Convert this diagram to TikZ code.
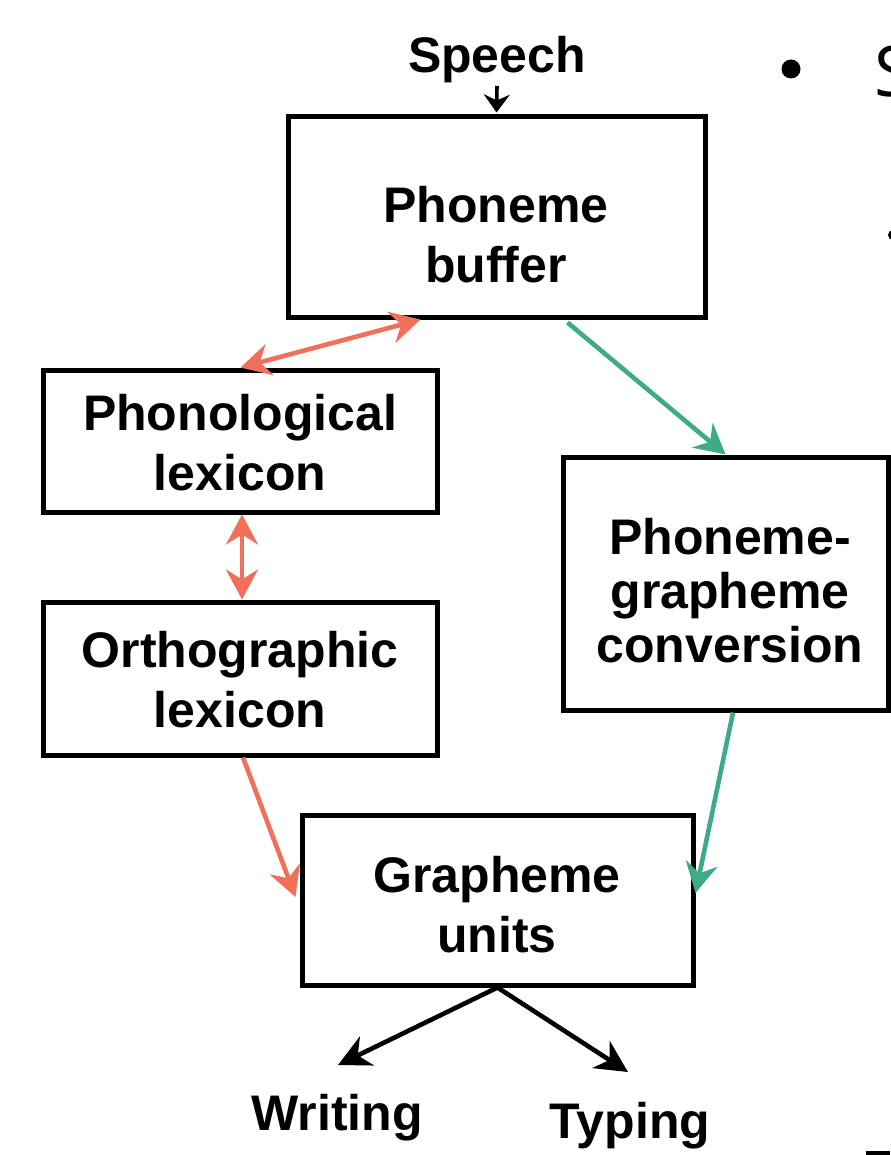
\documentclass[tikz,border=0pt]{standalone}
\usepackage{fontspec}
\setmainfont{Liberation Sans}
\newfontfamily\bulletfont{Open Sans}
\usetikzlibrary{arrows.meta,calc}
\definecolor{lexred}{HTML}{F0705A}
\definecolor{subgreen}{HTML}{3DAA8A}
\begin{document}
\begin{tikzpicture}[x=0.5pt,y=-0.5pt,
  box/.style={draw=black,line width=2.5pt,inner sep=0pt,fill=white},
  lbl/.style={font=\bfseries\fontsize{25}{30}\selectfont,align=center,inner sep=0pt,anchor=base},
  redarr/.style={draw=lexred,line width=2.3pt},
  greenarr/.style={draw=subgreen,line width=2.3pt},
  blkarr/.style={draw=black,line width=2.3pt}]
\useasboundingbox (0,0) rectangle (890,1155);
\fill[white] (0,0) rectangle (890,1155);
% boxes
\node[box,minimum width=208.5pt,minimum height=100pt] (pb) at (496.5,217) {};
\node[box,minimum width=197pt,minimum height=71pt] (pl) at (240,441) {};
\node[box,minimum width=197pt,minimum height=76.5pt] (ol) at (240,678.5) {};
\node[box,minimum width=162.5pt,minimum height=126.5pt] (pgc) at (725.5,583.5) {};
\node[box,minimum width=195.5pt,minimum height=85pt] (gu) at (497.5,900) {};
% texts (anchor base = baseline of last line)
\node[lbl] (speech) at (497,73) {Speech};
\node[lbl] (pbt) at (496,282) {Phoneme\\buffer};
\node[lbl] (plt) at (240,490) {Phonological\\lexicon};
\node[lbl] (olt) at (240,727) {Orthographic\\lexicon};
\node[lbl,font=\bfseries\fontsize{25}{27}\selectfont] (pgct) at (730,662) {Phoneme-\\grapheme\\conversion};
\node[lbl] (gut) at (497,952) {Grapheme\\units};
\node[lbl] (writing) at (337,1130) {Writing};
\node[lbl] (typing) at (630,1138) {Typing};
% bullet fragments
\fill[black] (791,69) circle (9.5);
\node[font=\bulletfont\fontsize{35}{40}\selectfont,inner sep=0pt,anchor=base west] (bullS) at (874,97) {S};
\fill[black] (893,235) circle (5);
\fill[black] (866,1151) rectangle (890,1155);
% connectors
\draw[blkarr,line width=1.8pt,-{Stealth[length=9pt,width=13pt,inset=3pt]}] ($(speech.south)+(0,2)$) -- ($(pb.north)+(0,-2)$);
\draw[redarr,{Stealth[length=15pt,width=16pt,inset=5pt]}-{Stealth[length=15pt,width=16pt,inset=5pt]}] ($(pl.north west)+(200,0)$) -- ($(pb.south west)+(135,0)$);
\draw[greenarr,-{Stealth[length=15pt,width=16pt,inset=5pt]}] ($(pb.south west)+(282,3)$) -- ($(pgc.north west)+(165,0)$);
\draw[redarr,{Stealth[length=15pt,width=16pt,inset=5pt]}-{Stealth[length=15pt,width=16pt,inset=5pt]}] ($(pl.south)+(2,0)$) -- ($(ol.north)+(2,0)$);
\draw[redarr,-{Stealth[length=15pt,width=16pt,inset=5pt]}] ($(ol.south)+(3,0)$) -- ($(gu.west)+(-4,-3)$);
\draw[greenarr,-{Stealth[length=15pt,width=16pt,inset=5pt]}] ($(pgc.south)+(7.5,0)$) -- ($(gu.east)+(0,-7)$);
\coordinate (wend) at (338,1065);
\coordinate (tend) at (628,1072);
\draw[blkarr,-{Stealth[length=16pt,width=16pt,inset=5pt]}] (gu.south) -- (wend);
\draw[blkarr,-{Stealth[length=16pt,width=16pt,inset=5pt]}] (gu.south) -- (tend);
\end{tikzpicture}
\end{document}
